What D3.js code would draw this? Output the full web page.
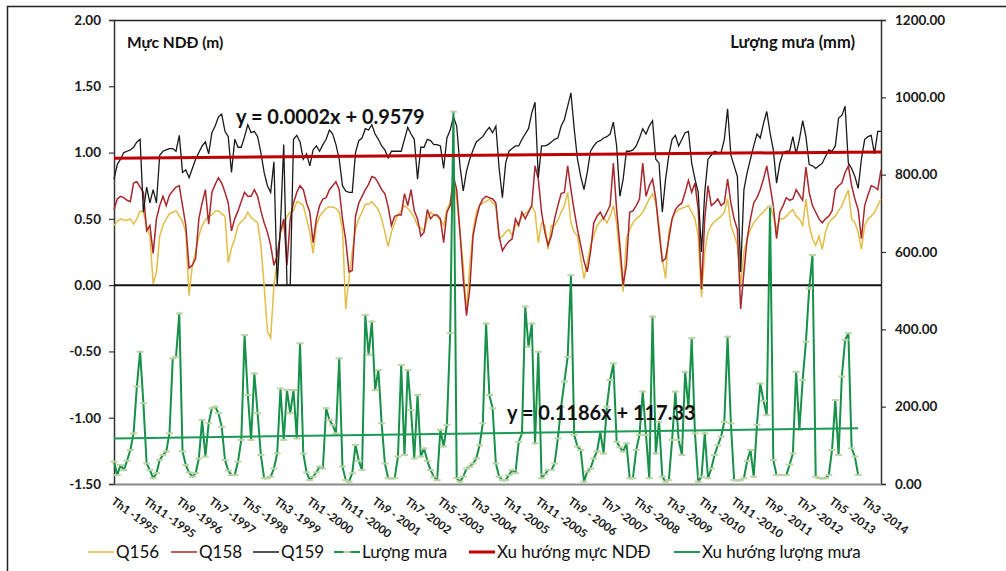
<!DOCTYPE html>
<meta charset="utf-8">
<html>
<head>
<style>
  body { margin: 0; background: #fff; }
  svg text { font-family: Lato, "Noto Sans", sans-serif; }
</style>
</head>
<body>
<svg id="chart" width="1006" height="571"></svg>
<script src="https://cdn.jsdelivr.net/npm/d3@7/dist/d3.min.js"></script>
<script>
// monthly groundwater level (m), Th1-1995 .. Th8-2014
const q156 = [
  0.45,0.48,0.50,0.49,0.49,0.50,0.46,0.50,0.56,0.55,
  0.45,0.37,0.01,0.10,0.37,0.45,0.50,0.54,0.55,0.56,
  0.52,0.48,0.40,-0.08,0.15,0.25,0.37,0.45,0.49,0.52,
  0.53,0.56,0.56,0.54,0.52,0.17,0.28,0.35,0.45,0.48,
  0.50,0.55,0.51,0.49,0.47,0.30,0.00,-0.35,-0.40,0.00,
  0.17,0.40,0.45,0.52,0.55,0.56,0.63,0.62,0.60,0.50,
  0.40,0.24,0.45,0.52,0.55,0.58,0.59,0.59,0.58,0.55,
  0.42,-0.18,0.05,0.25,0.42,0.50,0.55,0.61,0.61,0.63,
  0.60,0.57,0.50,0.40,0.29,0.40,0.47,0.53,0.56,0.60,
  0.58,0.55,0.51,0.45,0.43,0.41,0.50,0.55,0.53,0.52,
  0.49,0.45,0.57,0.62,0.80,0.65,0.40,0.15,-0.20,0.15,
  0.40,0.55,0.60,0.62,0.63,0.65,0.62,0.60,0.35,0.37,
  0.40,0.42,0.37,0.45,0.47,0.52,0.54,0.56,0.60,0.55,
  0.32,0.47,0.45,0.27,0.45,0.45,0.49,0.55,0.60,0.70,
  0.47,0.40,0.37,0.20,0.05,0.17,0.30,0.37,0.45,0.48,
  0.51,0.47,0.52,0.60,0.47,0.20,-0.05,0.35,0.42,0.47,
  0.50,0.52,0.55,0.60,0.65,0.69,0.62,0.45,0.20,0.05,
  0.40,0.50,0.55,0.57,0.58,0.59,0.60,0.55,0.50,0.37,
  -0.09,0.25,0.40,0.45,0.48,0.50,0.52,0.55,0.65,0.45,
  0.38,0.30,0.00,0.25,0.35,0.42,0.47,0.50,0.53,0.55,
  0.58,0.60,0.52,0.42,0.50,0.50,0.52,0.55,0.57,0.52,
  0.50,0.45,0.65,0.45,0.35,0.30,0.37,0.27,0.40,0.47,
  0.50,0.52,0.56,0.60,0.66,0.72,0.50,0.47,0.40,0.27,
  0.45,0.50,0.52,0.55,0.60,0.65
];
const q158 = [
  0.57,0.65,0.67,0.66,0.64,0.63,0.77,0.78,0.74,0.70,
  0.41,0.45,0.24,0.50,0.60,0.67,0.60,0.68,0.71,0.74,
  0.75,0.60,0.45,0.13,0.15,0.20,0.50,0.62,0.72,0.46,
  0.70,0.76,0.81,0.77,0.70,0.62,0.41,0.50,0.56,0.63,
  0.70,0.67,0.67,0.72,0.67,0.56,0.47,0.40,0.30,0.15,
  0.22,0.40,0.50,0.15,0.50,0.62,0.70,0.75,0.72,0.62,
  0.55,0.32,0.50,0.60,0.65,0.66,0.72,0.75,0.78,0.72,
  0.50,0.34,0.10,0.11,0.52,0.62,0.67,0.72,0.76,0.82,
  0.81,0.77,0.72,0.69,0.59,0.45,0.52,0.53,0.53,0.69,
  0.60,0.72,0.56,0.50,0.37,0.40,0.57,0.50,0.53,0.53,
  0.50,0.32,0.55,0.60,0.82,0.72,0.40,0.05,-0.23,-0.03,
  0.37,0.50,0.60,0.65,0.67,0.66,0.65,0.62,0.37,0.26,
  0.30,0.33,0.35,0.50,0.45,0.55,0.50,0.55,0.60,0.90,
  0.80,0.55,0.40,0.30,0.37,0.50,0.60,0.69,0.70,0.90,
  0.72,0.56,0.42,0.30,0.18,0.10,0.25,0.47,0.52,0.55,
  0.50,0.55,0.60,0.92,0.57,0.30,0.00,0.15,0.55,0.56,
  0.60,0.65,0.92,0.67,0.75,0.80,0.65,0.40,0.18,0.20,
  0.35,0.50,0.57,0.60,0.62,0.70,0.79,0.70,0.77,0.57,
  -0.03,0.50,0.75,0.60,0.62,0.65,0.60,0.62,0.80,0.62,
  0.50,0.42,-0.18,0.10,0.35,0.50,0.62,0.66,0.72,0.80,
  0.90,0.75,0.60,0.35,0.55,0.60,0.66,0.64,0.65,0.72,
  0.68,0.64,0.89,0.70,0.60,0.55,0.50,0.47,0.50,0.52,
  0.56,0.72,0.75,0.77,0.85,0.90,0.75,0.65,0.57,0.35,
  0.60,0.68,0.75,0.74,0.72,0.87
];
const q159 = [
  0.80,0.91,0.95,1.00,1.01,1.02,1.04,1.08,1.10,0.55,
  0.74,0.62,0.72,0.62,0.98,1.01,1.02,1.03,1.03,1.01,
  1.13,0.85,0.87,0.81,0.88,0.95,1.00,1.05,1.08,0.99,
  1.15,1.20,1.27,1.29,1.16,1.12,0.85,1.10,1.04,1.04,
  1.12,1.21,1.15,1.16,1.12,1.00,0.85,0.75,0.70,0.93,
  0.00,0.45,1.06,0.00,0.00,1.10,1.13,1.08,0.95,0.99,
  0.90,1.02,1.05,1.01,1.06,1.10,1.17,1.14,1.06,0.95,
  0.75,0.71,0.70,0.70,1.00,1.09,1.11,1.18,1.17,1.21,
  1.14,1.10,1.05,1.02,0.96,1.01,1.01,1.01,1.01,1.10,
  1.19,1.14,1.10,0.80,1.04,1.04,1.10,1.09,1.06,1.06,
  1.05,0.88,1.11,1.17,1.27,1.20,0.90,0.71,0.86,0.95,
  1.02,1.08,1.10,1.12,1.16,1.19,1.15,1.20,0.88,0.66,
  0.92,1.01,1.03,1.05,1.05,1.10,1.14,1.18,1.30,1.38,
  0.81,1.05,1.05,1.06,1.08,1.10,1.11,1.20,1.25,1.35,
  1.45,1.18,0.95,0.82,0.72,0.85,1.01,1.05,1.08,1.09,
  1.11,1.12,1.14,1.23,1.05,0.67,0.80,1.01,1.01,1.02,
  1.05,1.11,1.18,1.14,1.20,1.24,0.95,0.92,0.55,0.80,
  0.98,1.10,1.13,1.05,1.10,1.15,1.16,0.92,0.80,0.70,
  0.25,0.70,0.95,0.98,1.01,1.00,1.00,1.10,1.33,0.98,
  0.90,0.82,0.10,0.72,0.85,0.95,1.05,1.14,1.11,1.22,
  1.31,1.15,1.02,0.77,0.92,1.00,1.01,1.01,1.12,0.99,
  1.10,1.24,1.12,0.91,0.90,0.88,0.90,0.92,0.97,1.02,
  1.01,1.05,1.26,1.28,1.35,0.92,0.88,0.82,0.73,0.95,
  1.10,1.12,1.13,0.99,1.16,1.16
];
// monthly rainfall (mm), Th1-1995 .. Th1-2014
const rain = [
  58,23,49,36,60,88,131,252,342,209,
  53,36,15,28,62,75,84,131,325,329,
  441,84,49,30,19,28,66,166,71,157,
  196,200,183,148,62,35,23,23,58,114,
  385,230,114,286,183,75,15,15,19,40,
  79,247,114,243,183,243,118,364,79,30,
  10,19,30,45,40,196,166,152,131,325,
  45,10,6,28,101,60,36,437,334,420,
  243,295,157,53,15,15,15,71,308,75,
  295,191,66,230,71,92,60,36,19,10,
  140,97,153,390,963,15,6,19,40,45,
  53,66,100,157,415,230,196,53,19,10,
  10,23,36,28,109,131,459,355,415,105,
  342,15,25,36,36,53,118,200,265,329,
  540,127,97,88,6,32,40,66,84,135,
  79,200,269,312,109,95,84,105,15,15,
  88,127,239,127,15,433,79,161,19,6,
  10,114,239,114,75,290,196,377,131,6,
  19,131,15,40,75,100,122,161,381,157,
  10,10,10,15,60,88,19,153,260,215,
  178,717,62,23,23,23,23,50,79,290,
  140,269,368,506,592,19,15,15,15,23,
  88,217,75,278,372,390,92,71,23
];
// trend line end values
const trendNDD = [0.958, 1.005];
const trendRain = [117.5, 144.5];

const tickLabels = ['Th1 -1995','Th11 -1995','Th9 -1996','Th7 -1997','Th5 -1998','Th3 -1999',
  'Th1 -2000','Th11 -2000','Th9 - 2001','Th7 -2002','Th5 -2003','Th3 -2004','Th1 -2005',
  'Th11 -2005','Th9 - 2006','Th7 -2007','Th5 -2008','Th3 -2009','Th1 -2010','Th11 -2010',
  'Th9 - 2011','Th7 -2012','Th5 -2013','Th3 -2014'];
const leftTicks = [-1.5, -1, -0.5, 0, 0.5, 1, 1.5, 2];
const rightTicks = [0, 200, 400, 600, 800, 1000, 1200];

const legendItems = [
  {name: 'Q156', color: '#e3bd45', w: 1.5},
  {name: 'Q158', color: '#a8282e', w: 1.5},
  {name: 'Q159', color: '#1a1a1a', w: 1.5},
  {name: 'Lượng mưa', color: '#179149', w: 2, marker: true},
  {name: 'Xu hướng mực NDĐ', color: '#c00000', w: 3},
  {name: 'Xu hướng lượng mưa', color: '#1b9a55', w: 2}
];

const svg = d3.select('#chart');
const pLeft = 114, pRight = 881, pTop = 20, pBottom = 484;

const x = d3.scaleLinear().domain([0, q159.length - 1]).range([pLeft, pRight]);
const yL = d3.scaleLinear().domain([-1.5, 2]).range([pBottom, pTop]);
const yR = d3.scaleLinear().domain([0, 1200]).range([pBottom, pTop]);

// outer frame
svg.append('rect').attr('x', 7.5).attr('y', 6.5).attr('width', 1010).attr('height', 600)
  .attr('fill', 'none').attr('stroke', '#222').attr('stroke-width', 1.5);

// plot top border
svg.append('line').attr('x1', pLeft).attr('x2', pRight).attr('y1', pTop + 0.5).attr('y2', pTop + 0.5)
  .attr('stroke', '#222').attr('stroke-width', 1.5);

// axes
const gL = svg.append('g').attr('transform', `translate(${pLeft},0)`)
  .call(d3.axisLeft(yL).tickValues(leftTicks).tickFormat(d => d.toFixed(2)).tickSize(5).tickPadding(8));
const gR = svg.append('g').attr('transform', `translate(${pRight},0)`)
  .call(d3.axisRight(yR).tickValues(rightTicks).tickFormat(d => d.toFixed(2)).tickSize(5).tickPadding(9));
const gX = svg.append('g').attr('transform', `translate(0,${pBottom})`)
  .call(d3.axisBottom(x).tickValues(d3.range(0, 231, 10)).tickFormat((d, i) => tickLabels[i]).tickSize(0));

[gL, gR].forEach(g => {
  g.selectAll('.domain').attr('stroke', '#333').attr('stroke-width', 1.5);
  g.selectAll('.tick line').attr('stroke', '#333').attr('stroke-width', 1.2);
  g.selectAll('.tick text').attr('font-size', 13.5).attr('font-weight', 'bold').attr('fill', '#1a1a1a')
    .style('font-family', 'Lato, "Noto Sans", sans-serif');
});
gX.selectAll('.domain').attr('stroke', '#888').attr('stroke-width', 2);
gX.selectAll('.tick text')
  .attr('font-size', 11.5).attr('font-weight', 'bold').attr('fill', '#1a1a1a')
  .style('font-family', 'Lato, "Noto Sans", sans-serif')
  .attr('text-anchor', 'start').attr('y', 0).attr('dy', '0.75em')
  .attr('transform', 'translate(1,12) rotate(36)');

// zero line
svg.append('line').attr('x1', pLeft).attr('x2', pRight).attr('y1', yL(0)).attr('y2', yL(0))
  .attr('stroke', '#111').attr('stroke-width', 2);

const lineL = d3.line().x((d, i) => x(i)).y(d => yL(d));
const lineR = d3.line().x((d, i) => x(i)).y(d => yR(d));

svg.append('path').datum(q156).attr('d', lineL).attr('fill', 'none')
  .attr('stroke', legendItems[0].color).attr('stroke-width', 1.5);
svg.append('path').datum(q158).attr('d', lineL).attr('fill', 'none')
  .attr('stroke', legendItems[1].color).attr('stroke-width', 1.5);
svg.append('path').datum(q159).attr('d', lineL).attr('fill', 'none')
  .attr('stroke', legendItems[2].color).attr('stroke-width', 1.3);

svg.append('path').datum(rain).attr('d', lineR).attr('fill', 'none')
  .attr('stroke', legendItems[3].color).attr('stroke-width', 2).attr('stroke-linejoin', 'round');
svg.selectAll('.rmark').data(rain).enter().append('rect').attr('class', 'rmark')
  .attr('x', (d, i) => x(i) - 3.5).attr('y', d => yR(d) - 1)
  .attr('width', 7).attr('height', 2).attr('fill', '#bfd4a4');

// trend lines
svg.append('line').attr('x1', x(0)).attr('x2', x(q159.length - 1))
  .attr('y1', yL(trendNDD[0])).attr('y2', yL(trendNDD[1]))
  .attr('stroke', '#c00000').attr('stroke-width', 3);
svg.append('line').attr('x1', x(0)).attr('x2', x(rain.length - 1))
  .attr('y1', yR(trendRain[0])).attr('y2', yR(trendRain[1]))
  .attr('stroke', '#1b9a55').attr('stroke-width', 2);

// equations and axis titles
svg.append('text').attr('x', 236).attr('y', 124).attr('font-size', 20).attr('font-weight', 'bold')
  .attr('fill', '#111').text('y = 0.0002x + 0.9579');
svg.append('text').attr('x', 507).attr('y', 420).attr('font-size', 20).attr('font-weight', 'bold')
  .attr('fill', '#111').text('y = 0.1186x + 117.33');
svg.append('text').attr('x', 127).attr('y', 48).attr('font-size', 15.5).attr('font-weight', 'bold')
  .attr('fill', '#111').text('Mực NDĐ (m)');
svg.append('text').attr('x', 855).attr('y', 48).attr('text-anchor', 'end').attr('font-size', 16.5)
  .attr('font-weight', 'bold').attr('fill', '#111').text('Lượng mưa (mm)');

// legend
const legX = [88, 171, 253, 334, 469, 674];
const leg = svg.selectAll('.leg').data(legendItems).enter().append('g')
  .attr('transform', (d, i) => `translate(${legX[i]},552)`);
leg.append('line').attr('x1', 0).attr('x2', 26).attr('y1', 0).attr('y2', 0)
  .attr('stroke', d => d.color).attr('stroke-width', d => d.w);
leg.filter(d => d.marker).append('rect').attr('x', 9.5).attr('y', -1).attr('width', 7).attr('height', 2)
  .attr('fill', '#bfd4a4');
leg.append('text').attr('x', 28).attr('y', 6).attr('font-size', 17).attr('fill', '#111')
  .text(d => d.name);
</script>
</body>
</html>
